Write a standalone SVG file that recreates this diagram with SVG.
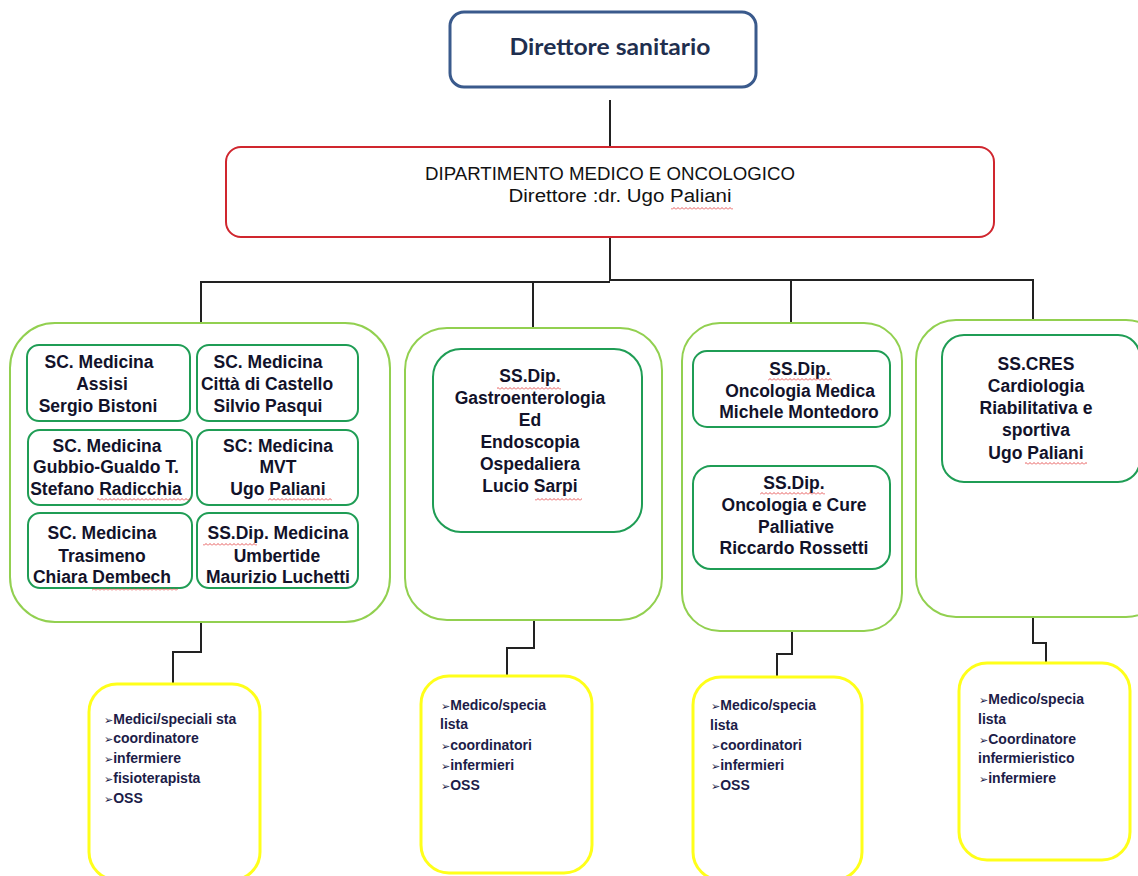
<svg xmlns="http://www.w3.org/2000/svg" width="1138" height="876" viewBox="0 0 1138 876">
<style>
.outer{fill:#fff;stroke:#92d050;stroke-width:2}
.inner{fill:#fff;stroke:#1f9d55;stroke-width:2}
.yel{fill:#fff;stroke:#ffff1a;stroke-width:3}
.t{font-family:"Liberation Sans",Arial,sans-serif;font-weight:bold;font-size:17.5px;fill:#12122a;text-anchor:middle}
.y{font-family:"Liberation Sans",Arial,sans-serif;font-weight:bold;font-size:14px;fill:#1c1c48}
.b{font-family:"DejaVu Sans",sans-serif;font-size:11px;font-weight:normal}
.conn{fill:none;stroke:#222;stroke-width:2}
.sp{fill:url(#wave)}
</style>
<defs>
<pattern id="wave" x="0" y="0" width="4" height="3" patternUnits="userSpaceOnUse">
<path d="M0 2.5 L2 0.5 L4 2.5" fill="none" stroke="#e03030" stroke-width="0.8"/>
</pattern>
</defs>
<rect width="1138" height="876" fill="#fff"/>

<g id="connectors">
<path class="conn" d="M610 100 V147"/>
<path class="conn" d="M610 237 V281"/>
<path class="conn" d="M610 282 H201 V323" stroke="#333"/>
<path class="conn" d="M533 282 V328"/>
<path class="conn" d="M610 280 H791" stroke-width="3" stroke="#111"/>
<path class="conn" d="M791 280 H1033 V320"/>
<path class="conn" d="M791 280 V323"/>
<path class="conn" d="M201 622 V652 H173 V684"/>
<path class="conn" d="M534 620 V648 H507 V676"/>
<path class="conn" d="M792 631 V654 H777 V677"/>
<path class="conn" d="M1033 617 V643 H1046 V664"/>
</g>

<g id="direttore">
<rect x="450" y="12" width="306" height="75" rx="14" fill="#fff" stroke="#3a5a8c" stroke-width="3"/>
<text x="610" y="55" font-family="Lato,'Liberation Sans',sans-serif" font-size="22" font-weight="bold" fill="#1f2f4f" text-anchor="middle" textLength="201" lengthAdjust="spacingAndGlyphs">Direttore sanitario</text>
</g>

<g id="dipartimento">
<rect x="226" y="147" width="768" height="90" rx="15" fill="#fff" stroke="#d0262e" stroke-width="2"/>
<text x="610" y="180" font-family="'Liberation Sans',Arial,sans-serif" font-size="18" fill="#111" text-anchor="middle" textLength="370" lengthAdjust="spacingAndGlyphs">DIPARTIMENTO MEDICO E ONCOLOGICO</text>
<text x="620" y="202" font-family="'Liberation Sans',Arial,sans-serif" font-size="18" fill="#111" text-anchor="middle" textLength="223" lengthAdjust="spacingAndGlyphs">Direttore :dr. Ugo Paliani</text>
<rect class="sp" x="671" y="207" width="62" height="3"/>
</g>

<g id="gruppo-medicina">
<rect class="outer" x="10" y="323" width="380" height="299" rx="45"/>
<g id="sc-assisi">
<rect class="inner" x="27" y="345" width="163" height="76" rx="12"/>
<text class="t" x="99" y="368">SC. Medicina</text>
<text class="t" x="102" y="390">Assisi</text>
<text class="t" x="98" y="412">Sergio Bistoni</text>
</g>
<g id="sc-citta-di-castello">
<rect class="inner" x="197" y="345" width="161" height="76" rx="12"/>
<text class="t" x="268" y="368">SC. Medicina</text>
<text class="t" x="267" y="390">Città di Castello</text>
<text class="t" x="268" y="412">Silvio Pasqui</text>
</g>
<g id="sc-gubbio">
<rect class="inner" x="28" y="430" width="164" height="75" rx="12"/>
<text class="t" x="107" y="452">SC. Medicina</text>
<text class="t" x="106" y="473">Gubbio-Gualdo T.</text>
<text class="t" x="106" y="495">Stefano Radicchia</text>
<rect class="sp" x="97" y="498" width="94" height="3"/>
</g>
<g id="sc-mvt">
<rect class="inner" x="197" y="430" width="161" height="75" rx="12"/>
<text class="t" x="278" y="452">SC: Medicina</text>
<text class="t" x="278" y="473">MVT</text>
<text class="t" x="278" y="495">Ugo Paliani</text>
<rect class="sp" x="268" y="498" width="64" height="3"/>
</g>
<g id="sc-trasimeno">
<rect class="inner" x="28" y="513" width="164" height="75" rx="12"/>
<text class="t" x="102" y="539">SC. Medicina</text>
<text class="t" x="102" y="562">Trasimeno</text>
<text class="t" x="102" y="583">Chiara Dembech</text>
<rect class="sp" x="92" y="588" width="86" height="3"/>
</g>
<g id="ss-umbertide">
<rect class="inner" x="197" y="513" width="161" height="75" rx="12"/>
<text class="t" x="278" y="539">SS.Dip. Medicina</text>
<text class="t" x="277" y="562">Umbertide</text>
<text class="t" x="278" y="583">Maurizio Luchetti</text>
<rect class="sp" x="203" y="543" width="54" height="3"/>
</g>
</g>

<g id="gruppo-gastro">
<rect class="outer" x="405" y="328" width="257" height="292" rx="42"/>
<rect class="inner" x="433" y="349" width="209" height="183" rx="28"/>
<text class="t" x="530" y="382">SS.Dip.</text>
<text class="t" x="530" y="404">Gastroenterologia</text>
<text class="t" x="530" y="426">Ed</text>
<text class="t" x="530" y="448">Endoscopia</text>
<text class="t" x="530" y="470">Ospedaliera</text>
<text class="t" x="530" y="492">Lucio Sarpi</text>
<rect class="sp" x="497" y="387" width="64" height="3"/>
<rect class="sp" x="535" y="498" width="47" height="3"/>
</g>

<g id="gruppo-oncologia">
<rect class="outer" x="682" y="323" width="220" height="308" rx="38"/>
<g id="ss-oncologia-medica">
<rect class="inner" x="693" y="351" width="197" height="76" rx="14"/>
<text class="t" x="800" y="375">SS.Dip.</text>
<text class="t" x="800" y="397">Oncologia Medica</text>
<text class="t" x="799" y="418">Michele Montedoro</text>
<rect class="sp" x="768" y="378" width="64" height="3"/>
</g>
<g id="ss-cure-palliative">
<rect class="inner" x="693" y="466" width="197" height="103" rx="18"/>
<text class="t" x="794" y="489">SS.Dip.</text>
<text class="t" x="794" y="511">Oncologia e Cure</text>
<text class="t" x="796" y="533">Palliative</text>
<text class="t" x="794" y="554">Riccardo Rossetti</text>
<rect class="sp" x="760" y="492" width="65" height="3"/>
</g>
</g>

<g id="gruppo-cres">
<rect class="outer" x="916" y="320" width="250" height="297" rx="40"/>
<rect class="inner" x="942" y="335" width="198" height="147" rx="22"/>
<text class="t" x="1036" y="370">SS.CRES</text>
<text class="t" x="1036" y="392">Cardiologia</text>
<text class="t" x="1036" y="414">Riabilitativa e</text>
<text class="t" x="1036" y="436">sportiva</text>
<text class="t" x="1036" y="459">Ugo Paliani</text>
<rect class="sp" x="1025" y="462" width="62" height="3"/>
</g>

<g id="personale-medicina">
<rect class="yel" x="89" y="684" width="171" height="196" rx="28"/>
<text class="y" x="104" y="724"><tspan class="b">➢</tspan>Medici/speciali sta</text>
<text class="y" x="104" y="743"><tspan class="b">➢</tspan>coordinatore</text>
<text class="y" x="104" y="763"><tspan class="b">➢</tspan>infermiere</text>
<text class="y" x="104" y="783"><tspan class="b">➢</tspan>fisioterapista</text>
<text class="y" x="104" y="803"><tspan class="b">➢</tspan>OSS</text>
</g>

<g id="personale-gastro">
<rect class="yel" x="421" y="676" width="171" height="197" rx="28"/>
<text class="y" x="441" y="710"><tspan class="b">➢</tspan>Medico/specia</text>
<text class="y" x="440" y="729">lista</text>
<text class="y" x="441" y="750"><tspan class="b">➢</tspan>coordinatori</text>
<text class="y" x="441" y="770"><tspan class="b">➢</tspan>infermieri</text>
<text class="y" x="441" y="790"><tspan class="b">➢</tspan>OSS</text>
</g>

<g id="personale-oncologia">
<rect class="yel" x="693" y="677" width="169" height="203" rx="28"/>
<text class="y" x="711" y="710"><tspan class="b">➢</tspan>Medico/specia</text>
<text class="y" x="710" y="730">lista</text>
<text class="y" x="711" y="750"><tspan class="b">➢</tspan>coordinatori</text>
<text class="y" x="711" y="770"><tspan class="b">➢</tspan>infermieri</text>
<text class="y" x="711" y="790"><tspan class="b">➢</tspan>OSS</text>
</g>

<g id="personale-cres">
<rect class="yel" x="959" y="663" width="171" height="197" rx="28"/>
<text class="y" x="979" y="704"><tspan class="b">➢</tspan>Medico/specia</text>
<text class="y" x="978" y="724">lista</text>
<text class="y" x="979" y="744"><tspan class="b">➢</tspan>Coordinatore</text>
<text class="y" x="978" y="763">infermieristico</text>
<text class="y" x="979" y="783"><tspan class="b">➢</tspan>infermiere</text>
</g>
</svg>
